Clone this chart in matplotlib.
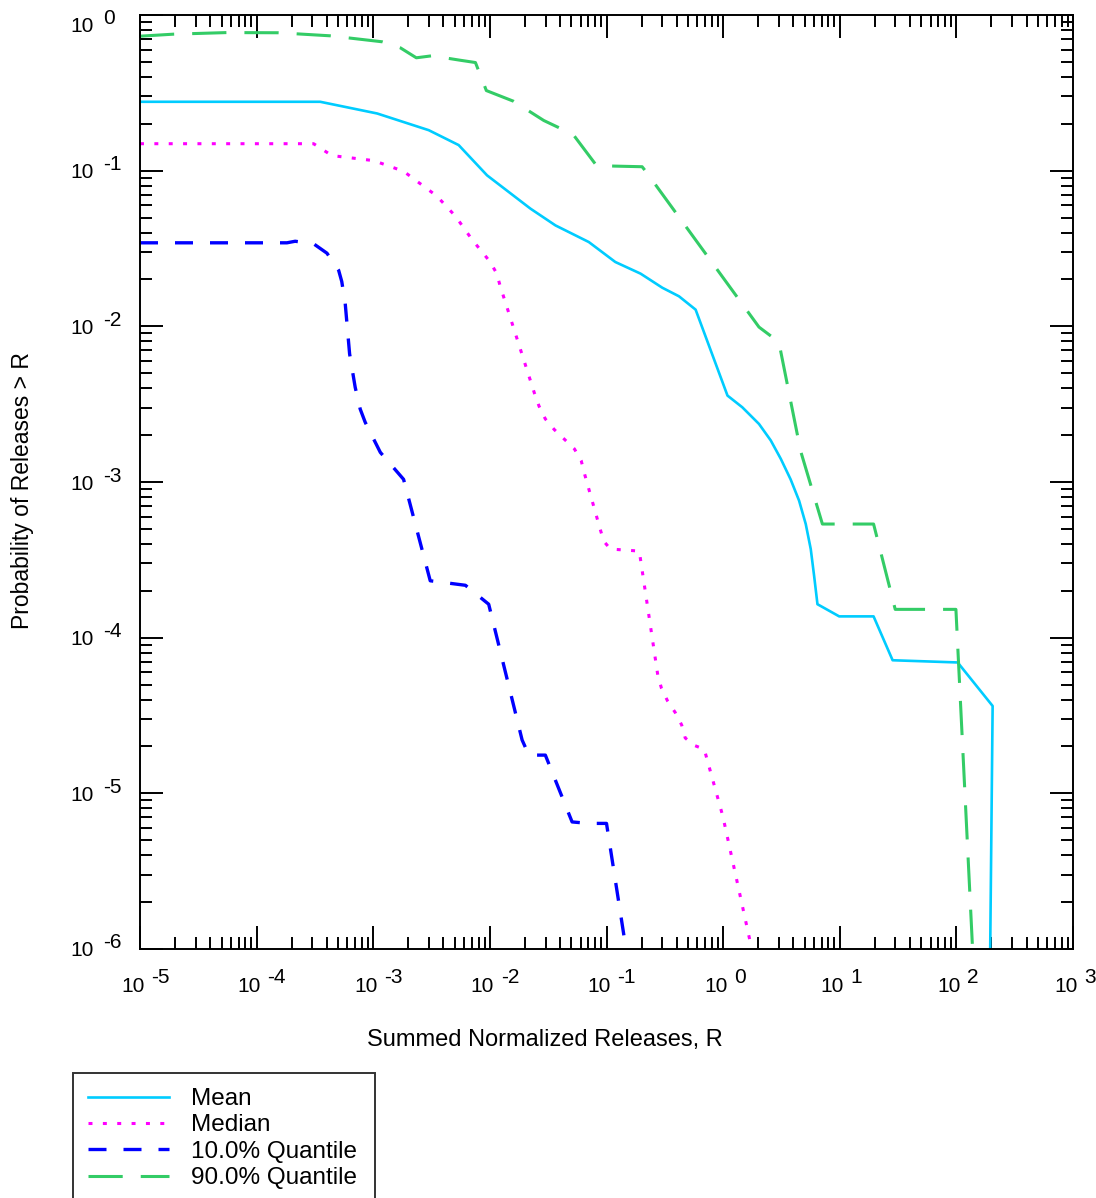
import matplotlib
matplotlib.use("Agg")
import matplotlib.pyplot as plt
from matplotlib.ticker import LogLocator, NullFormatter
import numpy as np

plt.rcParams['font.family'] = ['Liberation Sans', 'DejaVu Sans']

# Complementary cumulative distributions
mean_x = [1e-5, 3.51e-4, 1.08e-3, 2.99e-3, 5.40e-3, 9.46e-3, 0.0223, 0.0365, 0.0705, 0.119,
          0.196, 0.301, 0.418, 0.581, 1.09, 1.46, 2.03, 2.56, 3.12, 3.79, 4.48, 5.11, 5.64,
          6.03, 6.44, 9.89, 19.5, 28.4, 102.6, 204.6, 195.0]
mean_y = [0.277, 0.277, 0.233, 0.182, 0.146, 0.0933, 0.0570, 0.0445, 0.0348, 0.0259,
          0.0218, 0.0177, 0.0156, 0.0128, 3.59e-3, 3.02e-3, 2.36e-3, 1.85e-3, 1.41e-3, 1.04e-3,
          7.59e-4, 5.37e-4, 3.71e-4, 2.49e-4, 1.64e-4, 1.37e-4, 1.37e-4, 7.16e-5, 6.93e-5,
          3.64e-5, 1e-6]

median_x = [1e-5, 3.08e-4, 4.42e-4, 1.01e-3, 1.82e-3, 3.51e-3, 5.09e-3, 7.03e-3, 9.95e-3,
            0.0114, 0.0123, 0.0241, 0.0264, 0.0299, 0.0357, 0.0436, 0.0531, 0.0607, 0.0652,
            0.0877, 0.0948, 0.108, 0.191, 0.275, 0.296, 0.334, 0.389, 0.441, 0.473, 0.558,
            0.689, 0.995, 1.76]
median_y = [0.149, 0.149, 0.125, 0.116, 0.0991, 0.0687, 0.0508, 0.0361, 0.0262, 0.0220,
            0.0180, 3.72e-3, 3.07e-3, 2.54e-3, 2.17e-3, 1.88e-3, 1.63e-3, 1.37e-3, 1.11e-3,
            5.06e-4, 4.16e-4, 3.71e-4, 3.60e-4, 5.77e-5, 4.73e-5, 3.92e-5, 3.30e-5, 2.75e-5,
            2.27e-5, 2.04e-5, 1.92e-5, 7.11e-6, 1e-6]

q10_x = [1e-5, 1.82e-4, 2.14e-4, 3.08e-4, 4.01e-4, 5.05e-4, 5.37e-4, 5.75e-4, 6.27e-4,
         7.00e-4, 7.73e-4, 8.53e-4, 1.15e-3, 1.82e-3, 3.08e-3, 6.17e-3, 9.77e-3, 0.0189,
         0.0216, 0.0299, 0.0507, 0.0705, 0.1, 0.147]
q10_y = [0.0344, 0.0344, 0.0352, 0.0339, 0.0295, 0.0229, 0.0194, 0.0140, 6.65e-3, 4.06e-3,
         2.94e-3, 2.42e-3, 1.55e-3, 1.04e-3, 2.32e-4, 2.17e-4, 1.64e-4, 2.20e-5, 1.76e-5,
         1.76e-5, 6.55e-6, 6.41e-6, 6.41e-6, 1e-6]

q90_x = [1e-5, 1.93e-5, 5.55e-5, 1.54e-4, 4.28e-4, 1.19e-3, 1.71e-3, 2.34e-3, 3.19e-3,
         5.58e-3, 7.52e-3, 9.33e-3, 0.0160, 0.0223, 0.0290, 0.0390, 0.0520, 0.0820, 0.116,
         0.202, 0.216, 2.03, 2.64, 3.05, 4.62, 7.10, 19.5, 29.9, 99.1, 137.7]
q90_y = [0.731, 0.753, 0.771, 0.769, 0.735, 0.673, 0.615, 0.531, 0.547, 0.512, 0.495, 0.327,
         0.279, 0.238, 0.210, 0.189, 0.170, 0.108, 0.107, 0.106, 0.0995, 9.89e-3, 8.53e-3,
         7.50e-3, 1.58e-3, 5.37e-4, 5.37e-4, 1.52e-4, 1.52e-4, 1e-6]

labels = ['Mean', 'Median', '10.0% Quantile', '90.0% Quantile']
decades_x = np.arange(-5, 4)
decades_y = np.arange(-6, 1)

W, H = 1096, 1198
fig = plt.figure(figsize=(W / 100, H / 100), dpi=100)
ax = fig.add_axes([140 / W, 1 - 949 / H, (1073 - 140) / W, (949 - 15) / H])

ax.plot(mean_x, mean_y, color='#00CCFF', lw=1.9, label=labels[0])
ax.plot(median_x, median_y, color='#FF00FF', lw=2.2, ls=(0, (1.3, 3.4)), label=labels[1])
ax.plot(q10_x, q10_y, color='#0000FF', lw=2.4, ls=(0, (5.4, 5.1)), label=labels[2])
ax.plot(q90_x, q90_y, color='#33CC66', lw=2.2, ls=(0, (11.2, 5.9)), label=labels[3])

ax.set_xscale('log')
ax.set_yscale('log')
ax.set_xlim(1e-5, 1e3)
ax.set_ylim(1e-6, 1e0)

for axis in (ax.xaxis, ax.yaxis):
    axis.set_major_locator(LogLocator(base=10, numticks=100))
    axis.set_minor_locator(LogLocator(base=10, subs=np.arange(2, 10), numticks=100))
    axis.set_minor_formatter(NullFormatter())
ax.tick_params(which='both', direction='in', top=True, right=True,
               labelbottom=False, labelleft=False, width=1.4, color='black')
ax.tick_params(which='major', length=16.5)
ax.tick_params(which='minor', length=8.5)
for sp in ax.spines.values():
    sp.set_linewidth(1.4)

# tick labels as "10" with a raised exponent of the same size
px = 0.72
for e in decades_x:
    ax.annotate('10', xy=(10.0 ** e, 0), xycoords=ax.get_xaxis_transform(),
                xytext=(-19 * px, -43 * px), textcoords='offset points',
                ha='left', va='baseline', fontsize=15)
    ax.annotate('-' + str(-e) if e < 0 else str(e), xy=(10.0 ** e, 0),
                xycoords=ax.get_xaxis_transform(),
                xytext=(11 * px, -34 * px), textcoords='offset points',
                ha='left', va='baseline', fontsize=15)
for e in decades_y:
    shift = 10 if e == 0 else 0
    ax.annotate('10', xy=(0, 10.0 ** e), xycoords=ax.get_yaxis_transform(),
                xytext=(-70 * px, (-7.5 - shift) * px), textcoords='offset points',
                ha='left', va='baseline', fontsize=15)
    ax.annotate('-' + str(-e) if e < 0 else str(e), xy=(0, 10.0 ** e),
                xycoords=ax.get_yaxis_transform(),
                xytext=(-37 * px, (0.5 - shift) * px), textcoords='offset points',
                ha='left', va='baseline', fontsize=15)

fig.text(545 / W, 1 - 1040 / H, 'Summed Normalized Releases, R', fontsize=17,
         ha='center', va='center')
fig.text(23 / W, 1 - 491 / H, 'Probability of Releases > R', fontsize=16.5,
         ha='center', va='center', rotation=90)

leg = fig.legend(loc='upper left', bbox_to_anchor=(73 / W, 0, (375 - 73) / W, 1 - 1073 / H),
                 mode='expand', borderaxespad=0, fontsize=17.5, frameon=True, fancybox=False,
                 edgecolor='black', handlelength=3.35, handletextpad=0.9, labelspacing=0.18,
                 borderpad=0.62)
leg.get_frame().set_linewidth(1.4)

fig.savefig('out.png', dpi=100)
